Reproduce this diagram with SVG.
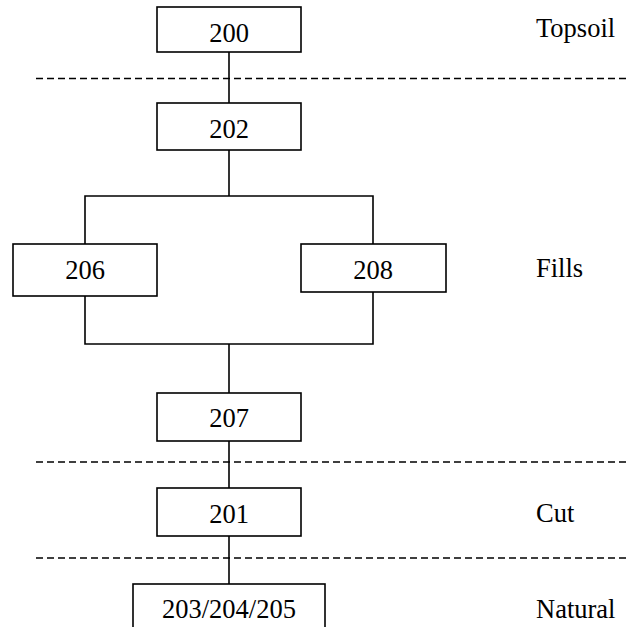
<svg xmlns="http://www.w3.org/2000/svg" width="628" height="627" viewBox="0 0 628 627">
<style>
.box{fill:#fff;stroke:#000;stroke-width:1.6}
.t{font-family:'Liberation Serif','Times New Roman',serif;font-size:26.5px;fill:#000}
.c{text-anchor:middle}
.ln{fill:none;stroke:#000;stroke-width:1.6}
.dash{fill:none;stroke:#000;stroke-width:1.6;stroke-dasharray:7 4}
</style>
<rect width="628" height="627" fill="#fff"/>
<g id="separators">
<line class="dash" x1="36" y1="78.5" x2="628" y2="78.5"/>
<line class="dash" x1="36" y1="462" x2="628" y2="462"/>
<line class="dash" x1="36" y1="558" x2="628" y2="558"/>
</g>
<g id="connectors">
<line class="ln" x1="229" y1="52" x2="229" y2="103"/>
<line class="ln" x1="229" y1="150" x2="229" y2="196"/>
<polyline class="ln" points="85,244 85,196 373,196 373,244"/>
<polyline class="ln" points="85,296 85,344 373,344 373,292"/>
<line class="ln" x1="229" y1="344" x2="229" y2="393"/>
<line class="ln" x1="229" y1="441" x2="229" y2="488"/>
<line class="ln" x1="229" y1="536" x2="229" y2="584"/>
</g>
<g id="n200"><rect class="box" x="157" y="7" width="144" height="45"/><text class="t c" x="229" y="42">200</text></g>
<g id="n202"><rect class="box" x="157" y="103" width="144" height="47"/><text class="t c" x="229" y="138">202</text></g>
<g id="n206"><rect class="box" x="13" y="244" width="144" height="52"/><text class="t c" x="85" y="279">206</text></g>
<g id="n208"><rect class="box" x="301" y="244" width="145" height="48"/><text class="t c" x="373" y="279">208</text></g>
<g id="n207"><rect class="box" x="157" y="393" width="144" height="48"/><text class="t c" x="229" y="427">207</text></g>
<g id="n201"><rect class="box" x="157" y="488" width="144" height="48"/><text class="t c" x="229" y="523">201</text></g>
<g id="n203"><rect class="box" x="133" y="584" width="192" height="60"/><text class="t c" x="229" y="618">203/204/205</text></g>
<g id="labels">
<text class="t" x="536" y="37">Topsoil</text>
<text class="t" x="536" y="277">Fills</text>
<text class="t" x="536" y="522">Cut</text>
<text class="t" x="536" y="618">Natural</text>
</g>
</svg>
